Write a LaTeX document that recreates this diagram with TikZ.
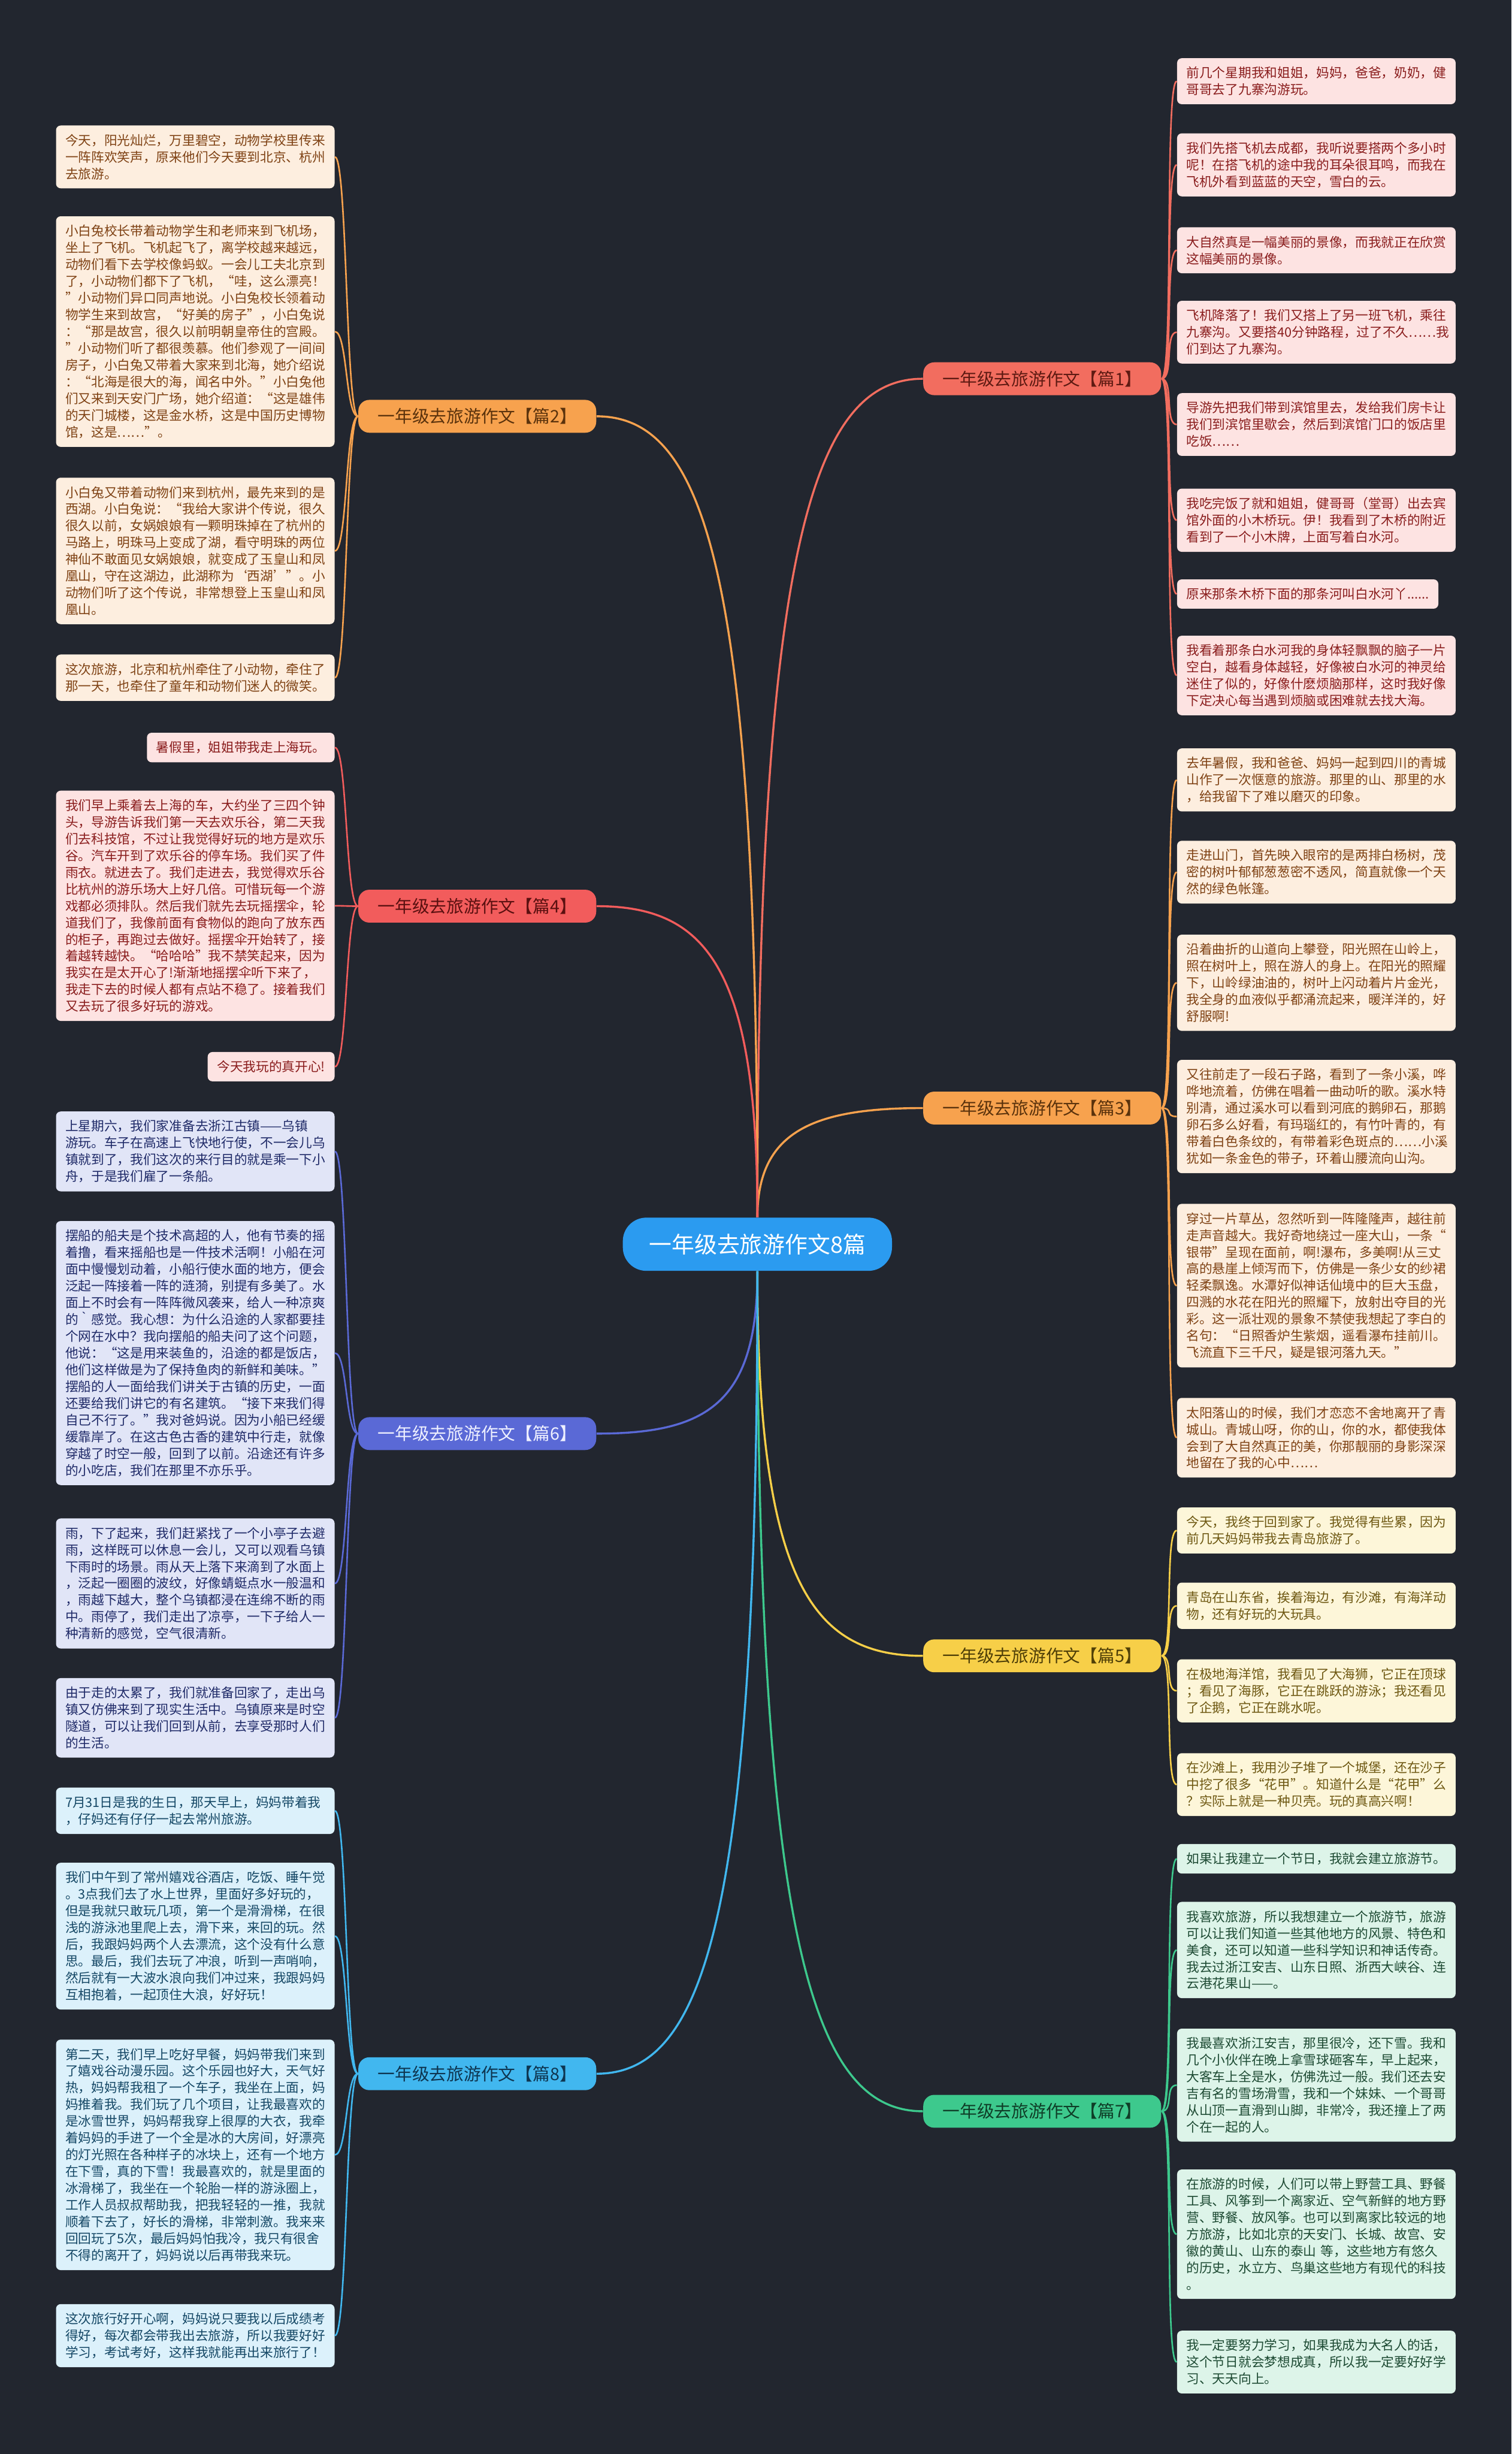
\documentclass[tikz,border=0pt]{standalone}
\usepackage{fontspec}
\setmainfont{Noto Sans CJK SC}
\usepackage{xcolor}
\usepackage{tikz}
\definecolor{bgc}{HTML}{22262F}
\definecolor{rootc}{HTML}{2B9BF0}
\definecolor{c1}{HTML}{F26D5F}
\definecolor{c2}{HTML}{F7A24E}
\definecolor{c4}{HTML}{F25C5C}
\definecolor{c5}{HTML}{F7CF48}
\definecolor{c6}{HTML}{5A69D6}
\definecolor{c7}{HTML}{3DC98D}
\definecolor{c8}{HTML}{41B7EF}
\definecolor{tx1}{HTML}{5E1A12}
\definecolor{tx2}{HTML}{5A320C}
\definecolor{tx4}{HTML}{5A1010}
\definecolor{tx5}{HTML}{4F3F07}
\definecolor{tx6}{HTML}{EEF0FF}
\definecolor{tx7}{HTML}{0F3D27}
\definecolor{tx8}{HTML}{0E3550}
\definecolor{f1}{HTML}{FDE3E2}
\definecolor{k1}{HTML}{8A1D1D}
\definecolor{f2}{HTML}{FDEEDF}
\definecolor{k2}{HTML}{7F4214}
\definecolor{f5}{HTML}{FDF6D9}
\definecolor{k5}{HTML}{6E5812}
\definecolor{f6}{HTML}{E1E5F7}
\definecolor{k6}{HTML}{1F2A68}
\definecolor{f7}{HTML}{DDF4E9}
\definecolor{k7}{HTML}{1D4A33}
\definecolor{f8}{HTML}{DCF1FB}
\definecolor{k8}{HTML}{154866}
\newcommand{\leaffont}{\fontsize{8.3pt}{10.7pt}\selectfont}
\newcommand{\topicfont}{\fontsize{11pt}{13pt}\selectfont}
\newcommand{\rootfont}{\fontsize{14.5pt}{17pt}\selectfont}

\begin{document}
\begin{tikzpicture}[x=1pt, y=-1pt,
  root/.style={fill=rootc, text=white, rounded corners=15pt, minimum width=172pt, minimum height=34pt, font=\rootfont},
  topic/.style={rounded corners=7pt, minimum width=152pt, minimum height=21pt, inner xsep=8pt, font=\topicfont},
  leaf/.style={rounded corners=3pt, align=left, inner xsep=6pt, inner ysep=5.5pt, font=\leaffont},
  wide/.style={leaf, text width=166pt},
  pinkbox/.style={fill=f1, text=k1},
  peachbox/.style={fill=f2, text=k2},
  lemonbox/.style={fill=f5, text=k5},
  lilacbox/.style={fill=f6, text=k6},
  mintbox/.style={fill=f7, text=k7},
  skybox/.style={fill=f8, text=k8},
  link/.style={line width=1.3pt},
  twig/.style={line width=1pt}
]
\useasboundingbox (0,0) rectangle (966,1568);
\fill[bgc] (0,0) rectangle (966,1568);

\node[root] (root) at (484,795) {一年级去旅游作文8篇};
\node[topic, fill=c1, text=tx1] (p1) at (666,242) {一年级去旅游作文【篇1】};
\node[topic, fill=c2, text=tx2] (p2) at (305,266) {一年级去旅游作文【篇2】};
\node[topic, fill=c2, text=tx2] (p3) at (666,708) {一年级去旅游作文【篇3】};
\node[topic, fill=c4, text=tx4] (p4) at (305,579) {一年级去旅游作文【篇4】};
\node[topic, fill=c5, text=tx5] (p5) at (666,1058) {一年级去旅游作文【篇5】};
\node[topic, fill=c6, text=tx6] (p6) at (305,916) {一年级去旅游作文【篇6】};
\node[topic, fill=c7, text=tx7] (p7) at (666,1349) {一年级去旅游作文【篇7】};
\node[topic, fill=c8, text=tx8] (p8) at (305,1325) {一年级去旅游作文【篇8】};

\node[wide, pinkbox, anchor=north west] (p1a) at (752,37)
  {前几个星期我和姐姐，妈妈，爸爸，奶奶，健\\哥哥去了九寨沟游玩。};
\node[wide, pinkbox, anchor=north west] (p1b) at (752,85)
  {我们先搭飞机去成都，我听说要搭两个多小时\\呢！在搭飞机的途中我的耳朵很耳鸣，而我在\\飞机外看到蓝蓝的天空，雪白的云。};
\node[wide, pinkbox, anchor=north west] (p1c) at (752,145)
  {大自然真是一幅美丽的景像，而我就正在欣赏\\这幅美丽的景像。};
\node[wide, pinkbox, anchor=north west] (p1d) at (752,192)
  {飞机降落了！我们又搭上了另一班飞机，乘往\\九寨沟。又要搭40分钟路程，过了不久……我\\们到达了九寨沟。};
\node[wide, pinkbox, anchor=north west] (p1e) at (752,251)
  {导游先把我们带到滨馆里去，发给我们房卡让\\我们到滨馆里歇会，然后到滨馆门口的饭店里\\吃饭……};
\node[wide, pinkbox, anchor=north west] (p1f) at (752,312)
  {我吃完饭了就和姐姐，健哥哥（堂哥）出去宾\\馆外面的小木桥玩。伊！我看到了木桥的附近\\看到了一个小木牌，上面写着白水河。};
\node[leaf, pinkbox, anchor=north west] (p1g) at (752,370)
  {原来那条木桥下面的那条河叫白水河丫......};
\node[wide, pinkbox, anchor=north west] (p1h) at (752,406)
  {我看着那条白水河我的身体轻飘飘的脑子一片\\空白，越看身体越轻，好像被白水河的神灵给\\迷住了似的，好像什麽烦脑那样，这时我好像\\下定决心每当遇到烦脑或困难就去找大海。};

\node[wide, peachbox, anchor=north east] (p2a) at (214,80)
  {今天，阳光灿烂，万里碧空，动物学校里传来\\一阵阵欢笑声，原来他们今天要到北京、杭州\\去旅游。};
\node[wide, peachbox, anchor=north east] (p2b) at (214,138)
  {小白兔校长带着动物学生和老师来到飞机场，\\坐上了飞机。飞机起飞了，离学校越来越远，\\动物们看下去学校像蚂蚁。一会儿工夫北京到\\了，小动物们都下了飞机，“哇，这么漂亮！\\”小动物们异口同声地说。小白兔校长领着动\\物学生来到故宫，“好美的房子”，小白兔说\\：“那是故宫，很久以前明朝皇帝住的宫殿。\\”小动物们听了都很羡慕。他们参观了一间间\\房子，小白兔又带着大家来到北海，她介绍说\\：“北海是很大的海，闻名中外。”小白兔他\\们又来到天安门广场，她介绍道：“这是雄伟\\的天门城楼，这是金水桥，这是中国历史博物\\馆，这是……”。};
\node[wide, peachbox, anchor=north east] (p2c) at (214,305)
  {小白兔又带着动物们来到杭州，最先来到的是\\西湖。小白兔说：“我给大家讲个传说，很久\\很久以前，女娲娘娘有一颗明珠掉在了杭州的\\马路上，明珠马上变成了湖，看守明珠的两位\\神仙不敢面见女娲娘娘，就变成了玉皇山和凤\\凰山，守在这湖边，此湖称为‘西湖’”。小\\动物们听了这个传说，非常想登上玉皇山和凤\\凰山。};
\node[wide, peachbox, anchor=north east] (p2d) at (214,418)
  {这次旅游，北京和杭州牵住了小动物，牵住了\\那一天，也牵住了童年和动物们迷人的微笑。};

\node[wide, peachbox, anchor=north west] (p3a) at (752,478)
  {去年暑假，我和爸爸、妈妈一起到四川的青城\\山作了一次惬意的旅游。那里的山、那里的水\\，给我留下了难以磨灭的印象。};
\node[wide, peachbox, anchor=north west] (p3b) at (752,537)
  {走进山门，首先映入眼帘的是两排白杨树，茂\\密的树叶郁郁葱葱密不透风，简直就像一个天\\然的绿色帐篷。};
\node[wide, peachbox, anchor=north west] (p3c) at (752,597)
  {沿着曲折的山道向上攀登，阳光照在山岭上，\\照在树叶上，照在游人的身上。在阳光的照耀\\下，山岭绿油油的，树叶上闪动着片片金光，\\我全身的血液似乎都涌流起来，暖洋洋的，好\\舒服啊!};
\node[wide, peachbox, anchor=north west] (p3d) at (752,677)
  {又往前走了一段石子路，看到了一条小溪，哗\\哗地流着，仿佛在唱着一曲动听的歌。溪水特\\别清，通过溪水可以看到河底的鹅卵石，那鹅\\卵石多么好看，有玛瑙红的，有竹叶青的，有\\带着白色条纹的，有带着彩色斑点的……小溪\\犹如一条金色的带子，环着山腰流向山沟。};
\node[wide, peachbox, anchor=north west] (p3e) at (752,769)
  {穿过一片草丛，忽然听到一阵隆隆声，越往前\\走声音越大。我好奇地绕过一座大山，一条“\\银带”呈现在面前，啊!瀑布，多美啊!从三丈\\高的悬崖上倾泻而下，仿佛是一条少女的纱裙\\轻柔飘逸。水潭好似神话仙境中的巨大玉盘，\\四溅的水花在阳光的照耀下，放射出夺目的光\\彩。这一派壮观的景象不禁使我想起了李白的\\名句：“日照香炉生紫烟，遥看瀑布挂前川。\\飞流直下三千尺，疑是银河落九天。”};
\node[wide, peachbox, anchor=north west] (p3f) at (752,893)
  {太阳落山的时候，我们才恋恋不舍地离开了青\\城山。青城山呀，你的山，你的水，都使我体\\会到了大自然真正的美，你那靓丽的身影深深\\地留在了我的心中……};

\node[leaf, pinkbox, anchor=north east] (p4a) at (214,468)
  {暑假里，姐姐带我走上海玩。};
\node[wide, pinkbox, anchor=north east] (p4b) at (214,505)
  {我们早上乘着去上海的车，大约坐了三四个钟\\头，导游告诉我们第一天去欢乐谷，第二天我\\们去科技馆，不过让我觉得好玩的地方是欢乐\\谷。汽车开到了欢乐谷的停车场。我们买了件\\雨衣。就进去了。我们走进去，我觉得欢乐谷\\比杭州的游乐场大上好几倍。可惜玩每一个游\\戏都必须排队。然后我们就先去玩摇摆伞，轮\\道我们了，我像前面有食物似的跑向了放东西\\的柜子，再跑过去做好。摇摆伞开始转了，接\\着越转越快。“哈哈哈”我不禁笑起来，因为\\我实在是太开心了!渐渐地摇摆伞听下来了，\\我走下去的时候人都有点站不稳了。接着我们\\又去玩了很多好玩的游戏。};
\node[leaf, pinkbox, anchor=north east] (p4c) at (214,672)
  {今天我玩的真开心!};

\node[wide, lemonbox, anchor=north west] (p5a) at (752,963)
  {今天，我终于回到家了。我觉得有些累，因为\\前几天妈妈带我去青岛旅游了。};
\node[wide, lemonbox, anchor=north west] (p5b) at (752,1011)
  {青岛在山东省，挨着海边，有沙滩，有海洋动\\物，还有好玩的大玩具。};
\node[wide, lemonbox, anchor=north west] (p5c) at (752,1060)
  {在极地海洋馆，我看见了大海狮，它正在顶球\\；看见了海豚，它正在跳跃的游泳；我还看见\\了企鹅，它正在跳水呢。};
\node[wide, lemonbox, anchor=north west] (p5d) at (752,1120)
  {在沙滩上，我用沙子堆了一个城堡，还在沙子\\中挖了很多“花甲”。知道什么是“花甲”么\\？实际上就是一种贝壳。玩的真高兴啊！};

\node[wide, lilacbox, anchor=north east] (p6a) at (214,710)
  {上星期六，我们家准备去浙江古镇——乌镇\\游玩。车子在高速上飞快地行使，不一会儿乌\\镇就到了，我们这次的来行目的就是乘一下小\\舟，于是我们雇了一条船。};
\node[wide, lilacbox, anchor=north east] (p6b) at (214,780)
  {摆船的船夫是个技术高超的人，他有节奏的摇\\着撸，看来摇船也是一件技术活啊！小船在河\\面中慢慢划动着，小船行使水面的地方，便会\\泛起一阵接着一阵的涟漪，别提有多美了。水\\面上不时会有一阵阵微风袭来，给人一种凉爽\\的｀感觉。我心想：为什么沿途的人家都要挂\\个网在水中？我向摆船的船夫问了这个问题，\\他说：“这是用来装鱼的，沿途的都是饭店，\\他们这样做是为了保持鱼肉的新鲜和美味。”\\摆船的人一面给我们讲关于古镇的历史，一面\\还要给我们讲它的有名建筑。“接下来我们得\\自己不行了。”我对爸妈说。因为小船已经缓\\缓靠岸了。在这古色古香的建筑中行走，就像\\穿越了时空一般，回到了以前。沿途还有许多\\的小吃店，我们在那里不亦乐乎。};
\node[wide, lilacbox, anchor=north east] (p6c) at (214,970)
  {雨，下了起来，我们赶紧找了一个小亭子去避\\雨，这样既可以休息一会儿，又可以观看乌镇\\下雨时的场景。雨从天上落下来滴到了水面上\\，泛起一圈圈的波纹，好像蜻蜓点水一般温和\\，雨越下越大，整个乌镇都浸在连绵不断的雨\\中。雨停了，我们走出了凉亭，一下子给人一\\种清新的感觉，空气很清新。};
\node[wide, lilacbox, anchor=north east] (p6d) at (214,1072)
  {由于走的太累了，我们就准备回家了，走出乌\\镇又仿佛来到了现实生活中。乌镇原来是时空\\隧道，可以让我们回到从前，去享受那时人们\\的生活。};

\node[wide, mintbox, anchor=north west] (p7a) at (752,1178)
  {如果让我建立一个节日，我就会建立旅游节。};
\node[wide, mintbox, anchor=north west] (p7b) at (752,1215)
  {我喜欢旅游，所以我想建立一个旅游节，旅游\\可以让我们知道一些其他地方的风景、特色和\\美食，还可以知道一些科学知识和神话传奇。\\我去过浙江安吉、山东日照、浙西大峡谷、连\\云港花果山——。};
\node[wide, mintbox, anchor=north west] (p7c) at (752,1296)
  {我最喜欢浙江安吉，那里很冷，还下雪。我和\\几个小伙伴在晚上拿雪球砸客车，早上起来，\\大客车上全是水，仿佛洗过一般。我们还去安\\吉有名的雪场滑雪，我和一个妹妹、一个哥哥\\从山顶一直滑到山脚，非常冷，我还撞上了两\\个在一起的人。};
\node[wide, mintbox, anchor=north west] (p7d) at (752,1386)
  {在旅游的时候，人们可以带上野营工具、野餐\\工具、风筝到一个离家近、空气新鲜的地方野\\营、野餐、放风筝。也可以到离家比较远的地\\方旅游，比如北京的天安门、长城、故宫、安\\徽的黄山、山东的泰山 等，这些地方有悠久\\的历史，水立方、鸟巢这些地方有现代的科技\\。};
\node[wide, mintbox, anchor=north west] (p7e) at (752,1489)
  {我一定要努力学习，如果我成为大名人的话，\\这个节日就会梦想成真，所以我一定要好好学\\习、天天向上。};

\node[wide, skybox, anchor=north east] (p8a) at (214,1142)
  {7月31日是我的生日，那天早上，妈妈带着我\\，仔妈还有仔仔一起去常州旅游。};
\node[wide, skybox, anchor=north east] (p8b) at (214,1190)
  {我们中午到了常州嬉戏谷酒店，吃饭、睡午觉\\。3点我们去了水上世界，里面好多好玩的，\\但是我就只敢玩几项，第一个是滑滑梯，在很\\浅的游泳池里爬上去，滑下来，来回的玩。然\\后，我跟妈妈两个人去漂流，这个没有什么意\\思。最后，我们去玩了冲浪，听到一声哨响，\\然后就有一大波水浪向我们冲过来，我跟妈妈\\互相抱着，一起顶住大浪，好好玩！};
\node[wide, skybox, anchor=north east] (p8c) at (214,1303)
  {第二天，我们早上吃好早餐，妈妈带我们来到\\了嬉戏谷动漫乐园。这个乐园也好大，天气好\\热，妈妈帮我租了一个车子，我坐在上面，妈\\妈推着我。我们玩了几个项目，让我最喜欢的\\是冰雪世界，妈妈帮我穿上很厚的大衣，我牵\\着妈妈的手进了一个全是冰的大房间，好漂亮\\的灯光照在各种样子的冰块上，还有一个地方\\在下雪，真的下雪！我最喜欢的，就是里面的\\冰滑梯了，我坐在一个轮胎一样的游泳圈上，\\工作人员叔叔帮助我，把我轻轻的一推，我就\\顺着下去了，好长的滑梯，非常刺激。我来来\\回回玩了5次，最后妈妈怕我冷，我只有很舍\\不得的离开了，妈妈说以后再带我来玩。};
\node[wide, skybox, anchor=north east] (p8d) at (214,1472)
  {这次旅行好开心啊，妈妈说只要我以后成绩考\\得好，每次都会带我出去旅游，所以我要好好\\学习，考试考好，这样我就能再出来旅行了！};

\draw[link, c1] (root.north) .. controls +(0,-430) and +(-70,0) .. (p1.west);
\draw[link, c2] (root.north) .. controls +(0,-410) and +(70,0) .. (p2.east);
\draw[link, c2] (root.north) .. controls +(0,-55) and +(-70,0) .. (p3.west);
\draw[link, c4] (root.north) .. controls +(0,-160) and +(70,0) .. (p4.east);
\draw[link, c5] (root.south) .. controls +(0,200) and +(-70,0) .. (p5.west);
\draw[link, c6] (root.south) .. controls +(0,85) and +(70,0) .. (p6.east);
\draw[link, c7] (root.south) .. controls +(0,430) and +(-70,0) .. (p7.west);
\draw[link, c8] (root.south) .. controls +(0,410) and +(70,0) .. (p8.east);

\draw[twig, c1]
  (p1.east) .. controls +(8,0) and +(-8,0) .. (p1a.west)
  (p1.east) .. controls +(8,0) and +(-8,0) .. (p1b.west)
  (p1.east) .. controls +(8,0) and +(-8,0) .. (p1c.west)
  (p1.east) .. controls +(8,0) and +(-8,0) .. (p1d.west)
  (p1.east) .. controls +(8,0) and +(-8,0) .. (p1e.west)
  (p1.east) .. controls +(8,0) and +(-8,0) .. (p1f.west)
  (p1.east) .. controls +(8,0) and +(-8,0) .. (p1g.west)
  (p1.east) .. controls +(8,0) and +(-8,0) .. (p1h.west);
\draw[twig, c2]
  (p2.west) .. controls +(-8,0) and +(8,0) .. (p2a.east)
  (p2.west) .. controls +(-8,0) and +(8,0) .. (p2b.east)
  (p2.west) .. controls +(-8,0) and +(8,0) .. (p2c.east)
  (p2.west) .. controls +(-8,0) and +(8,0) .. (p2d.east);
\draw[twig, c2]
  (p3.east) .. controls +(8,0) and +(-8,0) .. (p3a.west)
  (p3.east) .. controls +(8,0) and +(-8,0) .. (p3b.west)
  (p3.east) .. controls +(8,0) and +(-8,0) .. (p3c.west)
  (p3.east) .. controls +(8,0) and +(-8,0) .. (p3d.west)
  (p3.east) .. controls +(8,0) and +(-8,0) .. (p3e.west)
  (p3.east) .. controls +(8,0) and +(-8,0) .. (p3f.west);
\draw[twig, c4]
  (p4.west) .. controls +(-8,0) and +(8,0) .. (p4a.east)
  (p4.west) .. controls +(-8,0) and +(8,0) .. (p4b.east)
  (p4.west) .. controls +(-8,0) and +(8,0) .. (p4c.east);
\draw[twig, c5]
  (p5.east) .. controls +(8,0) and +(-8,0) .. (p5a.west)
  (p5.east) .. controls +(8,0) and +(-8,0) .. (p5b.west)
  (p5.east) .. controls +(8,0) and +(-8,0) .. (p5c.west)
  (p5.east) .. controls +(8,0) and +(-8,0) .. (p5d.west);
\draw[twig, c6]
  (p6.west) .. controls +(-8,0) and +(8,0) .. (p6a.east)
  (p6.west) .. controls +(-8,0) and +(8,0) .. (p6b.east)
  (p6.west) .. controls +(-8,0) and +(8,0) .. (p6c.east)
  (p6.west) .. controls +(-8,0) and +(8,0) .. (p6d.east);
\draw[twig, c7]
  (p7.east) .. controls +(8,0) and +(-8,0) .. (p7a.west)
  (p7.east) .. controls +(8,0) and +(-8,0) .. (p7b.west)
  (p7.east) .. controls +(8,0) and +(-8,0) .. (p7c.west)
  (p7.east) .. controls +(8,0) and +(-8,0) .. (p7d.west)
  (p7.east) .. controls +(8,0) and +(-8,0) .. (p7e.west);
\draw[twig, c8]
  (p8.west) .. controls +(-8,0) and +(8,0) .. (p8a.east)
  (p8.west) .. controls +(-8,0) and +(8,0) .. (p8b.east)
  (p8.west) .. controls +(-8,0) and +(8,0) .. (p8c.east)
  (p8.west) .. controls +(-8,0) and +(8,0) .. (p8d.east);
\end{tikzpicture}
\end{document}
